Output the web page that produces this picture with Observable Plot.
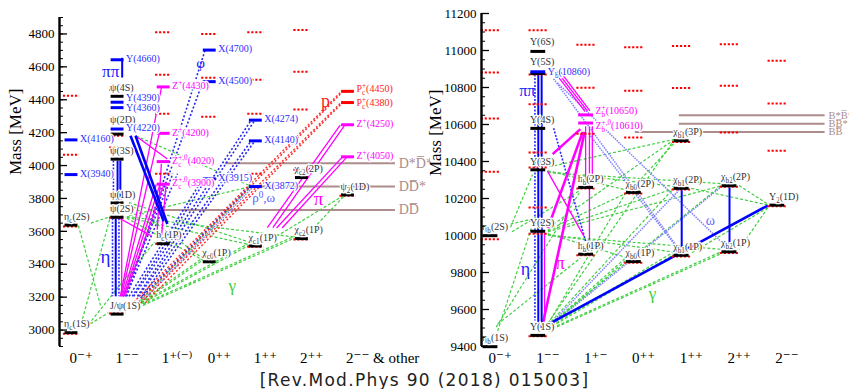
<!DOCTYPE html>
<html><head><meta charset="utf-8">
<script src="https://cdn.jsdelivr.net/npm/d3@7"></script>
<script src="https://cdn.jsdelivr.net/npm/@observablehq/plot@0.6"></script>
<style>
html,body{margin:0;padding:0;background:#fff;overflow:hidden;width:849px;height:389px}
#wrap{position:relative;width:849px;height:372px}
#L{position:absolute;left:0;top:0;width:430px;height:372px;overflow:hidden}
#R{position:absolute;left:424px;top:0;width:425px;height:372px}
#wrap svg, #wrap svg text{font-family:'Liberation Serif','DejaVu Serif',serif}
#cap{width:849px;text-align:center;font-family:'DejaVu Sans',sans-serif;font-size:17px;letter-spacing:1.3px;height:17px;line-height:17px;color:#222}
</style></head><body>
<div id="wrap"><div id="L"></div><div id="R"></div></div>
<div id="cap">[Rev.Mod.Phys 90 (2018) 015003]</div>
<script>
// ---------------- DATA: charmonium panel ----------------
const catsCC = ["0⁻⁺", "1⁻⁻", "1⁺⁽⁻⁾", "0⁺⁺", "1⁺⁺", "2⁺⁺", "2⁻⁻ & other"];
const majorTicksCC = [3000, 3200, 3400, 3600, 3800, 4000, 4200, 4400, 4600, 4800];
// [label, category, mass, kind]
const levelsCC = [
  ["η_{c}(1S)", 0, 2984, "cc"], ["η_{c}(2S)", 0, 3638, "cc"],
  ["X(3940)", 0, 3945, "X"], ["X(4160)", 0, 4156, "X"],
  ["J/ψ(1S)", 1, 3097, "cc"], ["ψ(2S)", 1, 3686, "cc"], ["ψ(1D)", 1, 3773, "cc"],
  ["ψ(3S)", 1, 4039, "cc"], ["ψ(2D)", 1, 4191, "cc"], ["ψ(4S)", 1, 4421, "cc"],
  ["Y(4220)", 1, 4222, "X"], ["Y(4360)", 1, 4352, "X"], ["Y(4390)", 1, 4385, "X"], ["Y(4660)", 1, 4643, "X"],
  ["h_{c}(1P)", 2, 3525, "cc"],
  ["Z_{c}^{+,0}(3900)", 2, 3887, "Z"], ["Z_{c}^{+,0}(4020)", 2, 4024, "Z"],
  ["Z^{+}(4200)", 2, 4196, "Z"], ["Z^{+}(4430)", 2, 4478, "Z"],
  ["χ_{c0}(1P)", 3, 3415, "cc"], ["X(3915)", 3, 3919, "X"], ["X(4500)", 3, 4510, "X"], ["X(4700)", 3, 4702, "X"],
  ["χ_{c1}(1P)", 4, 3511, "cc"], ["X(3872)", 4, 3872, "X"], ["X(4140)", 4, 4150, "X"], ["X(4274)", 4, 4276, "X"],
  ["χ_{c2}(1P)", 5, 3556, "cc"], ["χ_{c2}(2P)", 5, 3927, "cc"],
  ["ψ_{2}(1D)", 6, 3822, "cc"], ["Z^{+}(4050)", 6, 4053, "Z"], ["Z^{+}(4250)", 6, 4248, "Z"],
  ["P_{c}^{+}(4380)", 6, 4383, "P"], ["P_{c}^{+}(4450)", 6, 4451, "P"]
];
// predicted levels [category, mass]
const predCC = [
  [0, 2978], [0, 3630], [0, 4066], [0, 4424],
  [1, 3101], [1, 3683], [1, 4110], [1, 4181], [1, 4460],
  [2, 3525], [2, 3950], [2, 4315], [2, 4552], [2, 4810],
  [3, 3442], [3, 4296], [3, 4533], [3, 4800],
  [4, 3506], [4, 3950], [4, 4315], [4, 4522], [4, 4810],
  [5, 3551], [5, 3975], [5, 4340], [5, 4570], [5, 4824],
  [6, 3817]
];
// thresholds [label, mass, fromCategory, toCategory]
const thrCC = [["DD̅", 3730, 2.0, 7.03], ["DD̅*", 3872, 3.88, 7.03], ["D*D̅*", 4014, 3.34, 7.03]];
// transitions [cat1, mass1, cat2, mass2, type]
const linesCC = [
  [0.96, 3680, 0.96, 3205, "pp"], [0.89, 3680, 0.89, 3205, "eta"], [1.03, 3680, 1.03, 3205, "eta"], [1.09, 3680, 1.09, 3205, "pi"],
  [1.0, 4030, 1.0, 3790, "pp"], [1.06, 4030, 1.06, 3790, "pp"], [0.91, 4030, 0.91, 3790, "eta"],
  [1.1, 4655, 1.1, 4535, "pp"],
  [1.28, 4181, 2.0, 3663, "ppT"], [1.39, 4181, 2.08, 3645, "ppT"],
  [1.1, 3205, 1.84, 3885, "pi"], [1.13, 3205, 1.92, 3885, "pi"], [1.16, 3205, 2.0, 3880, "pi"],
  [1.08, 3205, 1.9, 4190, "pi"], [1.06, 3205, 1.95, 4470, "pi"],
  [1.02, 3683, 1.72, 3574, "pi"], [1.39, 4181, 2.08, 4040, "pi"],
  [1.95, 4010, 1.85, 3560, "pi"], [2.05, 3875, 1.95, 3560, "pi"],
  [4.25, 3622, 5.83, 4245, "pi"], [4.37, 3622, 5.93, 4245, "pi"],
  [4.45, 3620, 5.87, 4050, "pi"], [4.57, 3620, 5.97, 4050, "pi"],
  [1.35, 3170, 5.86, 4452, "p"], [1.45, 3170, 5.86, 4442, "p"], [1.5, 3165, 5.86, 4386, "p"], [1.6, 3165, 5.86, 4376, "p"],
  [1.35, 3205, 3.9, 4276, "phi"], [1.43, 3205, 3.98, 4276, "phi"],
  [1.45, 3205, 3.9, 4150, "phi"], [1.53, 3205, 3.98, 4150, "phi"],
  [1.15, 3205, 2.85, 4510, "phi"], [1.2, 3205, 2.9, 4702, "phi"],
  [1.25, 3205, 2.85, 3919, "phi"], [1.32, 3205, 2.92, 3919, "phi"],
  [1.5, 3195, 3.85, 3868, "phi"], [1.58, 3190, 3.92, 3865, "w"],
  [1.12, 3205, 2.2, 3950, "phi"], [1.18, 3205, 2.3, 3950, "phi"],
  [0.41, 3038, 0.8, 3105, "g"], [0.24, 3068, 0.85, 3695, "g"], [0.42, 3650, 0.85, 3690, "g"],
  [0.15, 3635, 0.63, 3150, "g"], [0.3, 3010, 1.8, 3535, "g"],
  [1.5, 3166, 2.85, 3425, "g"], [1.5, 3175, 2.86, 3440, "g"],
  [1.52, 3160, 3.85, 3515, "g"], [1.52, 3168, 3.85, 3528, "g"],
  [1.55, 3150, 4.85, 3560, "g"], [1.55, 3158, 4.85, 3572, "g"],
  [1.2, 3680, 2.85, 3425, "g"], [1.2, 3685, 3.85, 3520, "g"], [1.2, 3690, 4.85, 3565, "g"],
  [1.25, 3770, 2.85, 3435, "g"], [1.25, 3775, 3.85, 3535, "g"],
  [3.85, 3870, 1.25, 3695, "g"], [3.85, 3860, 1.5, 3180, "g"],
  [1.4, 4180, 3.88, 3876, "g"], [5.9, 3817, 4.47, 3573, "g"], [5.9, 3810, 5.1, 3575, "g"]
];
// annotations [text, category, mass, colour, fontSize]
const notesCC = [
  ["ππ", 0.85, 4570, "#1a1aff", 17], ["η", 0.74, 3445, "#1a1aff", 19], ["φ", 2.8, 4625, "#1a1aff", 15],
  ["ρ^{0},ω", 4.17, 3805, "#5a5aff", 13], ["π", 5.36, 3800, "#ff00ff", 19], ["p", 5.51, 4394, "#ff2020", 18],
  ["γ", 3.49, 3268, "#3fcf3f", 17]
];

// ---------------- DATA: bottomonium panel ----------------
const catsBB = ["0⁻⁺", "1⁻⁻", "1⁺⁻", "0⁺⁺", "1⁺⁺", "2⁺⁺", "2⁻⁻"];
const majorTicksBB = [9400, 9600, 9800, 10000, 10200, 10400, 10600, 10800, 11000, 11200];
const levelsBB = [
  ["η_{b}(1S)", 0, 9399, "cc"], ["η_{b}(2S)", 0, 9999, "cc"],
  ["Υ(1S)", 1, 9460, "cc"], ["Υ(2S)", 1, 10023, "cc"], ["Υ(3S)", 1, 10355, "cc"], ["Υ(4S)", 1, 10579, "cc"],
  ["Υ(5S)", 1, 10876, "cc"], ["Υ(6S)", 1, 10995, "cc"], ["Υ_{b}(10860)", 1, 10885, "X"],
  ["h_{b}(1P)", 2, 9899, "cc"], ["h_{b}(2P)", 2, 10260, "cc"],
  ["Z_{b}^{+,0}(10610)", 2, 10608, "Z"], ["Z_{b}^{+}(10650)", 2, 10652, "Z"],
  ["χ_{b0}(1P)", 3, 9859, "cc"], ["χ_{b0}(2P)", 3, 10233, "cc"],
  ["χ_{b1}(1P)", 4, 9893, "cc"], ["χ_{b1}(2P)", 4, 10255, "cc"], ["χ_{b1}(3P)", 4, 10512, "cc"],
  ["χ_{b2}(1P)", 5, 9912, "cc"], ["χ_{b2}(2P)", 5, 10269, "cc"],
  ["Υ_{2}(1D)", 6, 10164, "cc"]
];
const predBB = [
  [0, 9980], [0, 10344], [0, 10632], [0, 10881], [0, 11110],
  [1, 9455], [1, 10009], [1, 10151], [1, 10368], [1, 10449], [1, 10710], [1, 10870], [1, 11110],
  [2, 9893], [2, 10254], [2, 10550], [2, 10798], [2, 11031],
  [3, 9853], [3, 10227], [3, 10530], [3, 10782], [3, 11017],
  [4, 9887], [4, 10249], [4, 10506], [4, 10797], [4, 11025],
  [5, 9906], [5, 10263], [5, 10557], [5, 10809], [5, 11034],
  [6, 10158], [6, 10458], [6, 10713], [6, 10944]
];
const thrBB = [["BB̅", 10559, 3.03, 7.0], ["BB̅*", 10604, 3.95, 7.0], ["B*B̅*", 10650, 3.95, 7.0]];
const linesBB = [
  [1.0, 10870, 1.0, 9500, "pp"], [1.07, 10870, 1.07, 9500, "pp"], [0.93, 10870, 0.93, 9540, "eta"],
  [1.13, 10015, 1.13, 9540, "pi"],
  [1.32, 10580, 1.99, 9970, "eta"],
  [1.32, 10847, 3.97, 9917, "w"], [1.4, 10825, 4.96, 9933, "w"],
  [1.32, 9538, 3.97, 10252, "w"], [1.32, 9527, 4.85, 10268, "w"], [2.09, 10539, 3.87, 9945, "w"],
  [1.15, 9512, 5.8, 10162, "ppT"], [4.0, 10245, 4.0, 9910, "pp"], [5.0, 10260, 5.0, 9930, "pp"],
  [1.32, 10890, 1.98, 10670, "pi"], [1.38, 10890, 2.03, 10672, "pi"], [1.44, 10892, 2.08, 10674, "pi"],
  [1.88, 10575, 1.3, 10440, "piT"], [1.93, 10560, 1.2, 10040, "piT"], [1.97, 10560, 1.1, 9530, "piT"],
  [1.99, 10590, 1.99, 10290, "pi"], [2.07, 10590, 2.07, 9930, "pi"], [2.13, 10590, 2.13, 10290, "pi"],
  [1.19, 10349, 1.95, 9998, "pi"],
  [0.15, 9484, 0.88, 10060, "g"], [0.42, 10062, 0.88, 10089, "g"], [0.15, 9521, 1.88, 9878, "g"],
  [0.12, 9505, 1.88, 10240, "g"], [0.45, 10020, 1.88, 10245, "g"], [0.42, 10045, 0.88, 10330, "g"],
  [1.2, 9500, 2.85, 9870, "g"], [1.2, 9506, 2.85, 9884, "g"], [1.2, 9495, 3.85, 9900, "g"],
  [1.2, 9501, 3.85, 9914, "g"], [1.2, 9490, 4.85, 9915, "g"], [1.2, 9484, 4.85, 9905, "g"],
  [1.2, 10010, 2.85, 9880, "g"], [1.2, 10005, 3.85, 9910, "g"], [1.2, 10000, 4.85, 9925, "g"],
  [1.2, 9520, 2.85, 10240, "g"], [1.2, 9515, 3.85, 10260, "g"], [1.2, 9510, 4.85, 10275, "g"],
  [1.2, 10030, 2.85, 10230, "g"], [1.2, 10025, 3.85, 10255, "g"], [1.2, 10020, 4.85, 10270, "g"],
  [1.2, 10350, 2.85, 10245, "g"], [1.2, 10345, 3.85, 10265, "g"], [1.2, 10340, 4.85, 10280, "g"],
  [3.85, 10520, 1.2, 9525, "g"], [3.85, 10520, 1.2, 10040, "g"], [3.85, 10520, 1.2, 10370, "g"],
  [3.9, 10515, 2.95, 10250, "g"],
  [5.8, 10150, 4.2, 9905, "g"], [5.8, 10150, 5.2, 9925, "g"],
  [4.2, 10255, 5.8, 10165, "g"], [5.2, 10270, 5.8, 10170, "g"]
];
const notesBB = [
  ["ππ", 0.77, 10782, "#1a1aff", 16], ["η", 0.73, 9820, "#1a1aff", 18], ["π", 1.46, 9852, "#ff00ff", 18],
  ["ω", 4.6, 10079, "#6a6aff", 14], ["γ", 3.39, 9684, "#3fcf3f", 17]
];

// ---------------- styling (kept apart from the data) ----------------
const SERIF = "'Liberation Serif','DejaVu Serif',serif";
const labelNudgePx = {"Y(4390)": -3.5, "Y(4360)": 1, "ψ(2D)": -6, "Z_{b}^{+}(10650)": -3, "Z_{b}^{+,0}(10610)": 4,
  "P_{c}^{+}(4450)": -1.5, "P_{c}^{+}(4380)": 1.5, "Υ(6S)": -1, "Υ(5S)": -3, "Υ_{b}(10860)": 1.5};
const lineStyles = {
  g:   {stroke: "#3fcf3f", strokeWidth: 1.2, strokeDasharray: "3,2"},
  w:   {stroke: "#8080ff", strokeWidth: 1.5, strokeDasharray: "1.5,1"},
  phi: {stroke: "#2a2af0", strokeWidth: 1.6, strokeDasharray: "2,2"},
  eta: {stroke: "#2a2aff", strokeWidth: 1.6, strokeDasharray: "2,1.5"},
  p:   {stroke: "#ff2a2a", strokeWidth: 1.4, strokeDasharray: "2,2"},
  pi:  {stroke: "#ff00ff", strokeWidth: 1.3},
  piT: {stroke: "#ff00ff", strokeWidth: 2.6},
  pp:  {stroke: "#0000ff", strokeWidth: 2},
  ppT: {stroke: "#0000ff", strokeWidth: 2.6}
};
const kindColor = {cc: "#000", X: "#0000ff", Z: "#ff00ff", P: "#ff0000"};
const kindText = {cc: "#333", X: "#2e2eff", Z: "#ff00ff", P: "#ff1a1a"};

function panel(o) {
  const hb = o.halfBar;
  const H = 372, mb = 26;
  const unitsPerPx = (o.yDomain[1] - o.yDomain[0]) / (H - o.mt - mb);
  const ny = d => d[2] - (labelNudgePx[d[0]] || 0) * unitsPerPx;
  const marks = [];
  marks.push(Plot.ruleY(o.thr, {y: d => d[1], x1: d => d[2], x2: d => d[3], stroke: "#ad8c8c", strokeWidth: 2}));
  for (const [k, st] of Object.entries(lineStyles)) {
    const data = o.lines.filter(l => l[4] === k);
    if (data.length) marks.push(Plot.link(data, {x1: d => d[0], y1: d => d[1], x2: d => d[2], y2: d => d[3], ...st}));
  }
  marks.push(Plot.ruleY(o.pred, {y: d => d[1], x1: d => d[0] - hb * 1.25, x2: d => d[0] + hb * 1.25,
    stroke: "#ff0000", strokeWidth: 2, strokeDasharray: "2.2,1.8"}));
  marks.push(Plot.ruleY(o.levels, {y: d => d[2], x1: d => d[1] - hb, x2: d => d[1] + hb,
    stroke: d => kindColor[d[3]], strokeWidth: 3}));
  marks.push(Plot.text(o.levels.filter(d => d[3] === "cc"), {x: d => d[1] - hb, y: ny, text: d => d[0],
    textAnchor: "start", dx: -1, dy: -8.5, fill: "#333", fontSize: 10, fontFamily: SERIF, stroke: "white", strokeWidth: 2.5}));
  marks.push(Plot.text(o.levels.filter(d => d[3] !== "cc"), {x: d => d[1] + hb, y: ny, text: d => d[0],
    textAnchor: "start", dx: 2, dy: -1, fill: d => kindText[d[3]], fontSize: 10, fontFamily: SERIF, stroke: "white", strokeWidth: 2.5}));
  marks.push(Plot.text(o.thr, {x: o.thrLabelX, y: d => d[1], text: d => d[0], textAnchor: "start",
    fill: "#ad8c8c", fontSize: o.thrFont, fontFamily: SERIF}));
  marks.push(Plot.text(o.notes, {x: d => d[1], y: d => d[2], text: d => d[0], fill: d => d[3], fontSize: d => d[4], fontFamily: SERIF}));
  // axes
  marks.push(Plot.tickY(o.minor, {stroke: "#000", strokeWidth: 1, insetRight: o.width - o.ml - 4}));
  marks.push(Plot.tickY(o.major, {stroke: "#000", strokeWidth: 1.3, insetRight: o.width - o.ml - 8}));
  marks.push(Plot.ruleX([o.xDomain[0]], {stroke: "#000", strokeWidth: 2.4}));
  marks.push(Plot.axisY({ticks: o.major, tickSize: 0, tickPadding: 5, tickFormat: d => String(d), fontSize: 13,
    fontFamily: SERIF, label: null}));
  marks.push(Plot.axisX({ticks: [0, 1, 2, 3, 4, 5, 6], tickSize: 0, tickPadding: 6, tickFormat: i => o.cats[i],
    textAnchor: "start", dx: -2, fontSize: 15, fontFamily: SERIF, label: null}));
  marks.push(Plot.text(["Mass [MeV]"], {text: d => d, frameAnchor: "left", rotate: -90, dx: o.labelDx, dy: o.labelDy,
    fontSize: 17, fontFamily: SERIF}));
  return Plot.plot({
    width: o.width, height: H, marginLeft: o.ml, marginRight: 0, marginTop: o.mt, marginBottom: mb,
    x: {domain: o.xDomain, axis: null}, y: {domain: o.yDomain, axis: null},
    color: {type: "identity"},
    style: {fontFamily: SERIF, background: "transparent", color: "#000"},
    marks
  });
}

function richText(svg) {
  const NS = "http://www.w3.org/2000/svg";
  svg.querySelectorAll("text").forEach(t => {
    const s = t.textContent;
    if (!/[_^]\{/.test(s)) return;
    const parts = [];
    const re = /([_^])\{([^}]*)\}/g;
    let last = 0, m;
    while ((m = re.exec(s))) {
      if (m.index > last) parts.push(["n", s.slice(last, m.index)]);
      parts.push([m[1] === "_" ? "sub" : "sup", m[2]]);
      last = re.lastIndex;
    }
    if (last < s.length) parts.push(["n", s.slice(last)]);
    t.textContent = "";
    let cur = 0, prev = null;
    for (const [k, txt] of parts) {
      const ts = document.createElementNS(NS, "tspan");
      ts.textContent = txt;
      const target = k === "sub" ? 3 : k === "sup" ? -4 : 0;
      if (target - cur !== 0) ts.setAttribute("dy", target - cur);
      cur = target;
      if (k !== "n") ts.setAttribute("font-size", "72%");
      t.appendChild(ts);
      if (k === "sup" && prev && prev.k === "sub") ts.setAttribute("dx", -prev.node.getComputedTextLength());
      prev = {k, node: ts};
    }
  });
}

const left = panel({
  width: 430, ml: 59, mt: 17, halfBar: 0.14, xDomain: [-0.26, 7.79], yDomain: [2900, 4900],
  cats: catsCC, major: majorTicksCC, minor: d3.range(2900, 4901, 50),
  levels: levelsCC, pred: predCC, thr: thrCC, lines: linesCC, notes: notesCC,
  thrLabelX: 7.1, thrFont: 14, labelDx: -44, labelDy: -7
});
const right = panel({
  width: 425, ml: 57, mt: 13, halfBar: 0.155, xDomain: [-0.188, 7.51], yDomain: [9400, 11200],
  cats: catsBB, major: majorTicksBB, minor: d3.range(9400, 11201, 50),
  levels: levelsBB, pred: predBB, thr: thrBB, lines: linesBB, notes: notesBB,
  thrLabelX: 7.07, thrFont: 10.5, labelDx: -46, labelDy: -4
});
document.getElementById("L").appendChild(left);
document.getElementById("R").appendChild(right);
richText(left);
richText(right);
</script>
</body></html>
